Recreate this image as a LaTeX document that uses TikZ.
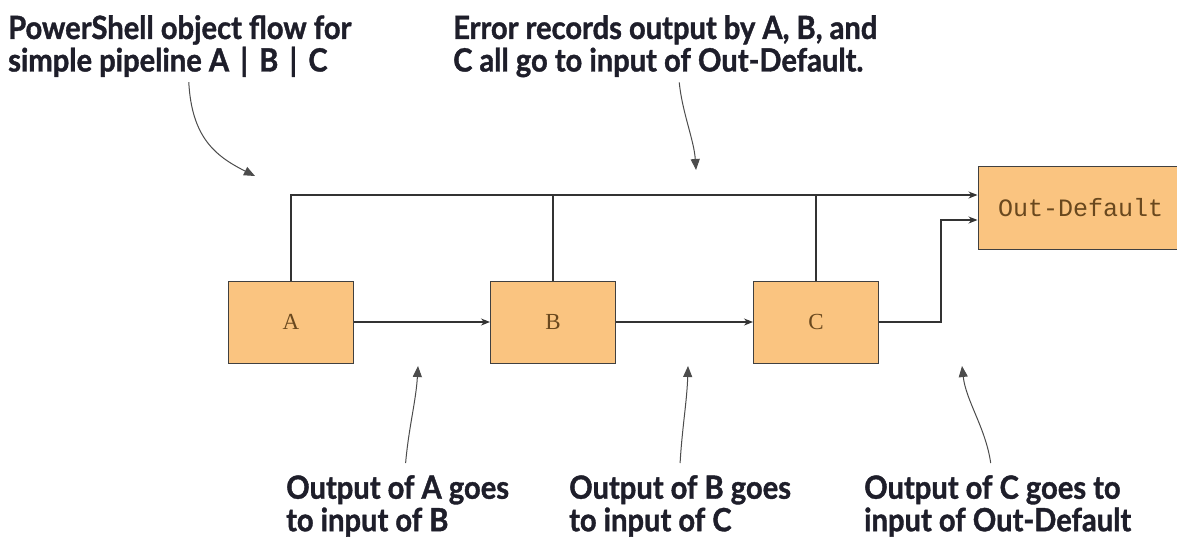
\documentclass[tikz,border=0pt]{standalone}
\usepackage{fontspec}
\setmainfont{Liberation Serif}
\setmonofont{Liberation Mono}
\newfontfamily\calloutfont[FakeStretch=0.91, BoldFeatures={FakeBold=1.2}]{Lato}
\usetikzlibrary{arrows.meta, calc}

\definecolor{pipefill}{RGB}{250,196,128}
\definecolor{stagetext}{RGB}{105,72,30}
\definecolor{notetext}{RGB}{30,30,42}

\begin{document}
\begin{tikzpicture}[
    x=1pt, y=-1pt,
    stage/.style={rectangle, draw=black!75, fill=pipefill, line width=1pt, minimum width=125pt, minimum height=82pt, inner sep=0pt, text=stagetext, font=\fontsize{23}{26}\selectfont},
    wire/.style={draw=black!80, line width=1.2pt},
    flow/.style={wire, -{Stealth[length=9pt, width=7pt]}},
    callout/.style={draw=black!70, line width=1pt, -{Triangle[length=11pt, width=9pt]}},
    note/.style={anchor=north west, align=left, inner sep=0pt, text=notetext, font=\calloutfont\bfseries\fontsize{32}{32.5}\selectfont}
]
\fill[white] (0,0) rectangle (1177,542);
\useasboundingbox (0,0) rectangle (1177,542);

% --- STAGES ---
\node (A) [stage] at (291,322) {A};
\node (B) [stage] at (553,322) {B};
\node (C) [stage] at (816,322) {C};
\node (OD) [stage, minimum width=205pt, minimum height=83pt, font=\ttfamily\fontsize{25}{28}\selectfont] at (1080.5,207.5) {Out-Default};

% --- PIPELINE WIRES ---
\coordinate (bus) at (0,195);
\draw [flow] (A.north) |- (bus -| OD.west);
\draw [wire] (B.north) -- (B.north |- bus);
\draw [wire] (C.north) -- (C.north |- bus);
\draw [flow] (A) -- (B);
\draw [flow] (B) -- (C);
\draw [flow] (C.east) -- ++(62,0) |- ([yshift=-12.5pt]OD.west);

% --- CALLOUTS ---
\node (title) [note] at (8,15) {PowerShell object flow for\\simple pipeline A\hspace{0.35em}|\hspace{0.35em}B\hspace{0.35em}|\hspace{0.35em}C};
\node (errors) [note] at (453,15) {Error records output by A, B, and\\C all go to input of Out-Default.};
\node (outA) [note] at (286,475) {Output of A goes\\to input of B};
\node (outB) [note] at (569,475) {Output of B goes\\to input of C};
\node (outC) [note] at (864,475) {Output of C goes to\\input of Out-Default};

\coordinate (titletip) at (255,176);
\coordinate (errtip) at (696,170);
\coordinate (outAtip) at (418,366);
\coordinate (outBtip) at (688,366);
\coordinate (outCtip) at (962,366);

\draw [callout] (title.south) ++(9pt,-5pt) .. controls +(3,55) and +(-40,-20) .. (titletip);
\draw [callout] ([xshift=14pt, yshift=-5pt]errors.south) .. controls +(3,30) and +(-2,-30) .. (errtip);
\draw [callout] ([xshift=8pt, yshift=12pt]outA.north) .. controls +(3,-35) and +(-2,35) .. (outAtip);
\draw [callout] ([xshift=0pt, yshift=12pt]outB.north) .. controls +(2,-35) and +(-1,35) .. (outBtip);
\draw [callout] ([xshift=-7pt, yshift=12pt]outC.north) .. controls +(-5,-35) and +(4,35) .. (outCtip);

\end{tikzpicture}
\end{document}
